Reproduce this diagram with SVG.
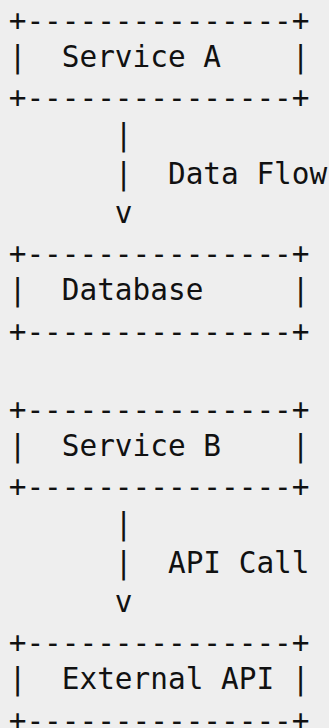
<svg xmlns="http://www.w3.org/2000/svg" width="329" height="728" viewBox="0 0 329 728">
<style>
text{font-family:"DejaVu Sans Mono",monospace;font-size:29.4px;fill:#111;white-space:pre}
</style>
<rect width="329" height="728" fill="#eeeeee"/>
<g id="service-a">
<text x="8.7" y="30.5" xml:space="preserve">+---------------+</text>
<text x="8.7" y="66.9" xml:space="preserve">|  Service A    |</text>
<text x="8.7" y="108.3" xml:space="preserve">+---------------+</text>
</g>
<g id="connectors">
<text x="8.7" y="144.7" xml:space="preserve">      |</text>
<text x="8.7" y="183.6" xml:space="preserve">      |  Data Flow</text>
<text x="8.7" y="222.5" xml:space="preserve">      v</text>
<text x="8.7" y="533.7" xml:space="preserve">      |</text>
<text x="8.7" y="572.6" xml:space="preserve">      |  API Call</text>
<text x="8.7" y="611.5" xml:space="preserve">      v</text>
</g>
<g id="database">
<text x="8.7" y="263.9" xml:space="preserve">+---------------+</text>
<text x="8.7" y="300.3" xml:space="preserve">|  Database     |</text>
<text x="8.7" y="341.7" xml:space="preserve">+---------------+</text>
</g>
<g id="service-b">
<text x="8.7" y="419.5" xml:space="preserve">+---------------+</text>
<text x="8.7" y="455.9" xml:space="preserve">|  Service B    |</text>
<text x="8.7" y="497.3" xml:space="preserve">+---------------+</text>
</g>
<g id="external-api">
<text x="8.7" y="652.9" xml:space="preserve">+---------------+</text>
<text x="8.7" y="689.3" xml:space="preserve">|  External API |</text>
<text x="8.7" y="730.5" xml:space="preserve">+---------------+</text>
</g>
</svg>
